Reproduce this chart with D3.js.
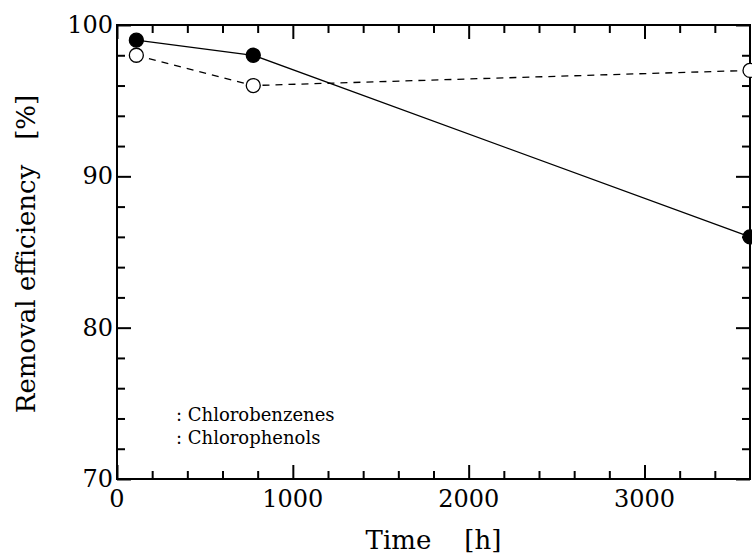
<!DOCTYPE html>
<html>
<head>
<meta charset="utf-8">
<script src="https://cdn.jsdelivr.net/npm/d3@7"></script>
</head>
<body style="margin:0">
<svg id="chart" width="752" height="555"></svg>
<script>
// data
const times = [110, 775, 3600];
const chlorobenzenes = [99, 98, 86];
const chlorophenols = [98, 96, 97];
const xTickLabels = [0, 1000, 2000, 3000];
const yTickLabels = [70, 80, 90, 100];
const legendLabels = [": Chlorobenzenes", ": Chlorophenols"];

const width = 752;
const height = 555;
const marginTop = 25;
const marginRight = 2;
const marginBottom = 76;
const marginLeft = 117;
const serif = "DejaVu Serif, serif";

const svg = d3.select("#chart");

const x = d3.scaleLinear()
  .domain([0, 3600])
  .range([marginLeft, width - marginRight]);

const y = d3.scaleLinear()
  .domain([70, 100])
  .range([height - marginBottom, marginTop]);

const plotBottom = height - marginBottom;
const plotRight = width - marginRight;

const xMinor = d3.range(200, 3600, 200).filter(d => d % 1000 !== 0);
const yMinor = d3.range(72, 100, 2).filter(d => d % 10 !== 0);

// frame
svg.append("rect")
  .attr("x", marginLeft).attr("y", marginTop)
  .attr("width", plotRight - marginLeft).attr("height", plotBottom - marginTop)
  .attr("fill", "none").attr("stroke", "black").attr("stroke-width", 2);

// series
const line = d3.line()
  .x(d => x(d[0]))
  .y(d => y(d[1]));

const series = [
  {values: chlorophenols, dash: "7,6", fill: "white"},
  {values: chlorobenzenes, dash: null, fill: "black"}
];

for (const s of series) {
  const pts = times.map((t, i) => [t, s.values[i]]);
  svg.append("path")
    .datum(pts)
    .attr("d", line)
    .attr("fill", "none")
    .attr("stroke", "black")
    .attr("stroke-width", 1.3)
    .attr("stroke-dasharray", s.dash);
  svg.append("g").selectAll("circle")
    .data(pts)
    .join("circle")
      .attr("cx", d => x(d[0]))
      .attr("cy", d => y(d[1]))
      .attr("r", 7)
      .attr("fill", s.fill)
      .attr("stroke", "black")
      .attr("stroke-width", 1.3);
}

// inward ticks on all four sides, from d3 axes
function addAxis (axis, tx, ty) {
  const g = svg.append("g")
    .attr("transform", `translate(${tx},${ty})`)
    .call(axis.tickSizeOuter(0).tickFormat(() => ""));
  g.select(".domain").remove();
  g.selectAll(".tick line").attr("stroke", "black").attr("stroke-width", 2);
}

addAxis(d3.axisTop(x).tickValues(xTickLabels).tickSizeInner(14), 0, plotBottom);
addAxis(d3.axisTop(x).tickValues(xMinor).tickSizeInner(8), 0, plotBottom);
addAxis(d3.axisBottom(x).tickValues(xTickLabels).tickSizeInner(14), 0, marginTop);
addAxis(d3.axisBottom(x).tickValues(xMinor).tickSizeInner(8), 0, marginTop);
addAxis(d3.axisRight(y).tickValues(yTickLabels).tickSizeInner(14), marginLeft, 0);
addAxis(d3.axisRight(y).tickValues(yMinor).tickSizeInner(8), marginLeft, 0);
addAxis(d3.axisLeft(y).tickValues(yTickLabels).tickSizeInner(14), plotRight, 0);
addAxis(d3.axisLeft(y).tickValues(yMinor).tickSizeInner(8), plotRight, 0);

// tick labels
svg.append("g").selectAll("text")
  .data(xTickLabels)
  .join("text")
    .attr("x", d => x(d))
    .attr("y", plotBottom + 28)
    .attr("text-anchor", "middle")
    .attr("font-family", serif)
    .attr("font-size", 24)
    .text(d => d);

svg.append("g").selectAll("text")
  .data(yTickLabels)
  .join("text")
    .attr("x", marginLeft - 4)
    .attr("y", d => y(d) + 8)
    .attr("text-anchor", "end")
    .attr("font-family", serif)
    .attr("font-size", 24)
    .text(d => d);

// axis titles
svg.append("text")
  .attr("x", x(1800))
  .attr("y", 549)
  .attr("text-anchor", "middle")
  .attr("font-family", serif)
  .attr("font-size", 26)
  .attr("xml:space", "preserve")
  .text("Time    [h]");

svg.append("text")
  .attr("transform", "translate(35,254) rotate(-90)")
  .attr("text-anchor", "middle")
  .attr("font-family", serif)
  .attr("font-size", 26)
  .attr("xml:space", "preserve")
  .text("Removal efficiency   [%]");

// legend (text only, as in the figure)
svg.append("g").selectAll("text")
  .data(legendLabels)
  .join("text")
    .attr("x", 176)
    .attr("y", (d, i) => 421 + i * 23)
    .attr("font-family", serif)
    .attr("font-size", 18)
    .text(d => d);
</script>
</body>
</html>
